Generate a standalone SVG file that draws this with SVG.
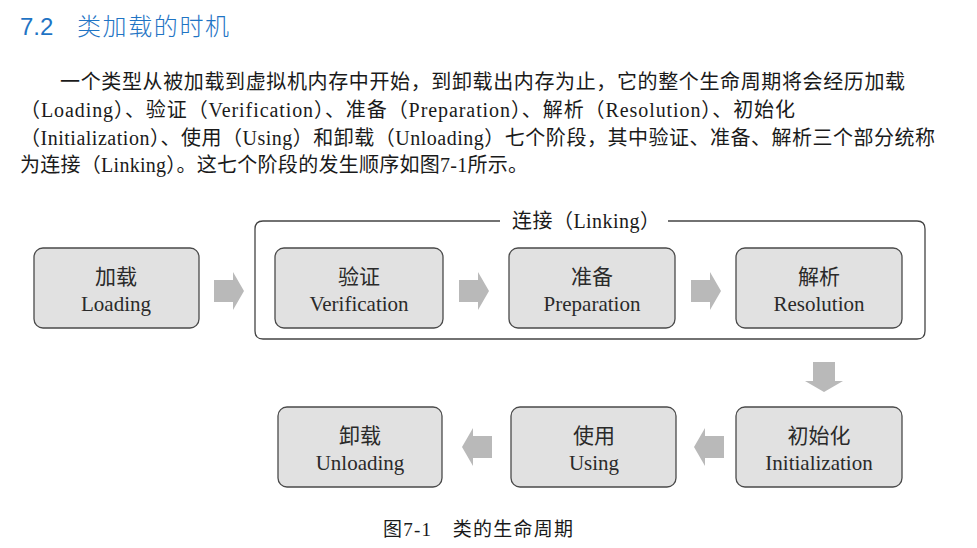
<svg xmlns="http://www.w3.org/2000/svg" width="977" height="548" viewBox="0 0 977 548">
<style>
.box{fill:#e1e1e1;stroke:#4a4a4a;stroke-width:1.3}
.arr{fill:#b9b9b9}
</style>
<defs>
<path id="arr" d="M0,-11 H19 V-19 L30,0 L19,19 V11 H0 Z"/>
</defs>
<rect width="977" height="548" fill="#fff"/>
<text x="20" y="35" font-family="Liberation Sans, Noto Sans CJK SC, sans-serif" font-size="24" fill="#1f74c4">7.2</text>
<text x="77" y="35" font-family="Noto Sans CJK SC, sans-serif" font-size="24" font-weight="300" fill="#1f74c4" textLength="152">类加载的时机</text>
<g font-family="Liberation Serif, Noto Sans CJK SC, serif" font-size="20" fill="#1a1a1a">
<text x="60" y="89" textLength="845" lengthAdjust="spacing">一个类型从被加载到虚拟机内存中开始，到卸载出内存为止，它的整个生命周期将会经历加载</text>
<text x="20" y="117" textLength="775" lengthAdjust="spacing">（Loading）、验证（Verification）、准备（Preparation）、解析（Resolution）、初始化</text>
<text x="20" y="145" textLength="915" lengthAdjust="spacing">（Initialization）、使用（Using）和卸载（Unloading）七个阶段，其中验证、准备、解析三个部分统称</text>
<text x="20" y="172" textLength="508" lengthAdjust="spacing">为连接（Linking）。这七个阶段的发生顺序如图7-1所示。</text>
</g>
<g id="linking">
<path d="M668,221 H917 Q925,221 925,229 V331 Q925,339 917,339 H263 Q255,339 255,331 V229 Q255,221 263,221 H500" fill="none" stroke="#444" stroke-width="1.3"/>
<text x="512" y="228" font-family="Liberation Serif, Noto Sans CJK SC, serif" font-size="20" fill="#1a1a1a" textLength="148" lengthAdjust="spacing">连接（Linking）</text>
</g>
<g font-family="Liberation Serif, Noto Sans CJK SC, serif" font-size="21" fill="#2a2a2a" text-anchor="middle">
<g id="loading"><rect class="box" x="34" y="248" width="165" height="80" rx="9"/><text x="116" y="284">加载</text><text x="116" y="311">Loading</text></g>
<g id="verification"><rect class="box" x="275" y="248" width="168" height="80" rx="9"/><text x="359" y="284">验证</text><text x="359" y="311">Verification</text></g>
<g id="preparation"><rect class="box" x="509" y="248" width="166" height="80" rx="9"/><text x="592" y="284">准备</text><text x="592" y="311">Preparation</text></g>
<g id="resolution"><rect class="box" x="736" y="248" width="166" height="80" rx="9"/><text x="819" y="284">解析</text><text x="819" y="311">Resolution</text></g>
<g id="initialization"><rect class="box" x="736" y="407" width="166" height="80" rx="9"/><text x="819" y="443">初始化</text><text x="819" y="470">Initialization</text></g>
<g id="using"><rect class="box" x="511" y="407" width="165" height="80" rx="9"/><text x="594" y="443">使用</text><text x="594" y="470">Using</text></g>
<g id="unloading"><rect class="box" x="278" y="407" width="164" height="80" rx="9"/><text x="360" y="443">卸载</text><text x="360" y="470">Unloading</text></g>
</g>
<g id="connectors" class="arr">
<use href="#arr" transform="translate(214,291)"/>
<use href="#arr" transform="translate(459,291)"/>
<use href="#arr" transform="translate(691,291)"/>
<use href="#arr" transform="translate(824,362) rotate(90)"/>
<use href="#arr" transform="translate(724,447) rotate(180)"/>
<use href="#arr" transform="translate(492,447) rotate(180)"/>
</g>
<text x="383" y="536" font-family="Liberation Serif, Noto Sans CJK SC, serif" font-size="19" fill="#1a1a1a" textLength="190" lengthAdjust="spacing">图7-1　类的生命周期</text>
</svg>
